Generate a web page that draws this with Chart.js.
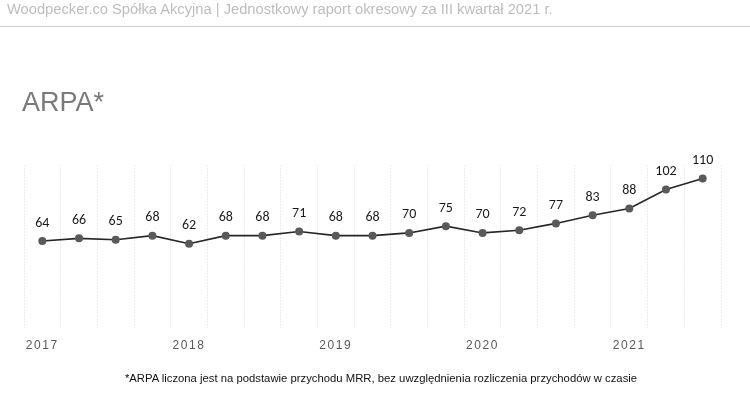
<!DOCTYPE html>
<html>
<head>
<meta charset="utf-8">
<script src="https://cdn.jsdelivr.net/npm/chart.js@4"></script>
<style>
  html, body { margin: 0; padding: 0; background: #fff; }
  #wrap { position: relative; width: 750px; height: 398px; overflow: hidden; }
  #c { position: absolute; left: 0; top: 0; }
  .hdr { position: absolute; left: 7px; top: 2px; font: 14.7px/1 "Liberation Sans", Arial, sans-serif; color: #bdbdbd; white-space: nowrap; }
  .rule { position: absolute; left: 0; top: 26px; width: 750px; height: 1px; background: #cfcfcf; }
  .ttl { position: absolute; left: 22px; top: 89px; font: 27px/1 "Liberation Sans", Arial, sans-serif; color: #7a7a7a; white-space: nowrap; }
  .foot { position: absolute; left: 0; width: 762px; top: 373px; text-align: center; font: 11.3px/1 "Liberation Sans", Arial, sans-serif; color: #111; white-space: nowrap; }
</style>
</head>
<body>
<div id="wrap">
  <canvas id="c" width="750" height="398"></canvas>
  <div class="hdr">Woodpecker.co Spółka Akcyjna | Jednostkowy raport okresowy za III kwartał 2021 r.</div>
  <div class="rule"></div>
  <div class="ttl">ARPA*</div>
  <div class="foot">*ARPA liczona jest na podstawie przychodu MRR, bez uwzględnienia rozliczenia przychodów w czasie</div>
</div>
<script>
const quarters = ['Q1 2017','Q2 2017','Q3 2017','Q4 2017',
                  'Q1 2018','Q2 2018','Q3 2018','Q4 2018',
                  'Q1 2019','Q2 2019','Q3 2019','Q4 2019',
                  'Q1 2020','Q2 2020','Q3 2020','Q4 2020',
                  'Q1 2021','Q2 2021','Q3 2021'];
const arpa = [64, 66, 65, 68, 62, 68, 68, 71, 68, 68, 70, 75, 70, 72, 77, 83, 88, 102, 110];
const yearTicks = ['2017', '', '', '', '2018', '', '', '', '2019', '', '', '', '2020', '', '', '', '2021', '', ''];

const spacing = {
  id: 'spacing',
  beforeDraw(chart) { chart.ctx.letterSpacing = '1.6px'; },
  beforeDatasetsDraw(chart) { chart.ctx.letterSpacing = '0px'; }
};
const valueLabels = {
  id: 'valueLabels',
  afterDatasetsDraw(chart) {
    const ctx = chart.ctx;
    const meta = chart.getDatasetMeta(0);
    ctx.save();
    ctx.letterSpacing = '0px';
    ctx.font = '14px Carlito, Lato, "Noto Sans", sans-serif';
    ctx.fillStyle = '#1a1a1a';
    ctx.textAlign = 'center';
    ctx.textBaseline = 'middle';
    meta.data.forEach((pt, i) => {
      ctx.fillText(String(chart.data.datasets[0].data[i]), pt.x, pt.y - 18);
    });
    ctx.restore();
  }
};

new Chart(document.getElementById('c'), {
  type: 'line',
  data: {
    labels: quarters,
    datasets: [{
      data: arpa,
      borderColor: '#262626',
      borderWidth: 1.6,
      pointBackgroundColor: '#595959',
      pointBorderColor: '#595959',
      pointRadius: 4,
      pointBorderWidth: 0,
      tension: 0
    }]
  },
  options: {
    responsive: false,
    animation: false,
    events: [],
    layout: { padding: { left: 24, right: 29, top: 165, bottom: 35 } },
    plugins: { legend: { display: false }, tooltip: { enabled: false }, title: { display: false } },
    scales: {
      x: {
        offset: true,
        grid: { offset: true, drawTicks: false, color: '#ececec', lineWidth: 1 },
        border: { display: false, dash: [2, 1] },
        afterFit(s) { s.height = 35; },
        ticks: {
          autoSkip: false, maxRotation: 0, padding: 10,
          color: '#595959',
          font: { family: '"Liberation Sans", Arial, sans-serif', size: 12 },
          callback: (v, i) => yearTicks[i]
        }
      },
      y: { display: false, min: 0, max: 120 }
    }
  },
  plugins: [spacing, valueLabels]
});
</script>
</body>
</html>
